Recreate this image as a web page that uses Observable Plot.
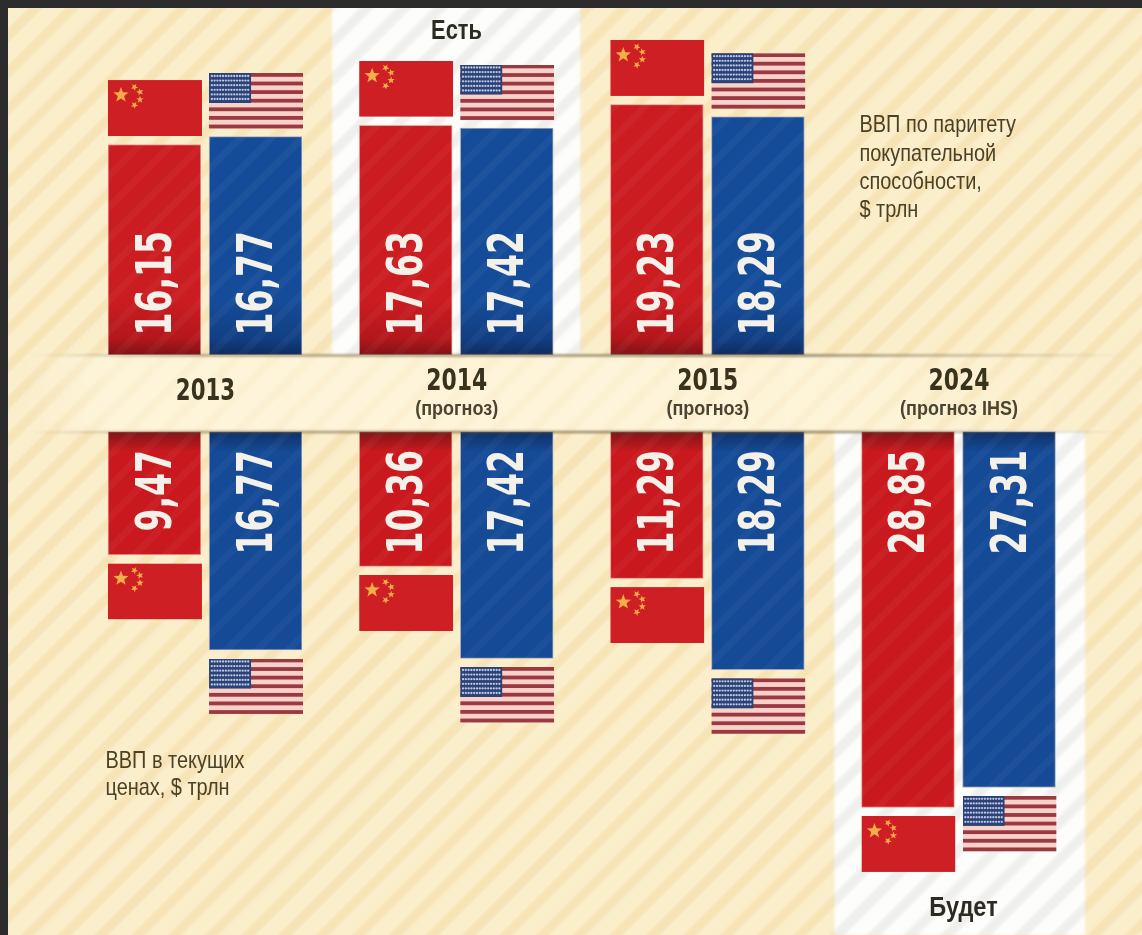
<!DOCTYPE html>
<html>
<head>
<meta charset="utf-8">
<script src="https://cdn.jsdelivr.net/npm/d3@7"></script>
<script src="https://cdn.jsdelivr.net/npm/@observablehq/plot@0.6"></script>
<style>
html,body{margin:0;padding:0;width:1142px;height:935px;overflow:hidden;background:#2c2c2c}
#sheet{position:absolute;left:8px;top:8px;width:1134px;height:927px;overflow:hidden;
  background:repeating-linear-gradient(135deg,#fbeecb 0,#fbeecb 13px,#f6e3b6 17px,#f6e3b6 22px,#fbeecb 26px)}
#chart{position:absolute;left:-8px;top:-8px}
#chart svg{display:block;filter:blur(.6px)}
#defs{position:absolute;width:0;height:0}
</style>
</head>
<body>
<svg id="defs" xmlns="http://www.w3.org/2000/svg">
  <defs>
    <linearGradient id="redTop" gradientUnits="userSpaceOnUse" x1="0" x2="0" y1="300" y2="355">
      <stop offset="0" stop-color="#cb1c21"/><stop offset=".7" stop-color="#b3171c"/><stop offset="1" stop-color="#7f1217"/>
    </linearGradient>
    <linearGradient id="blueTop" gradientUnits="userSpaceOnUse" x1="0" x2="0" y1="300" y2="355">
      <stop offset="0" stop-color="#154c99"/><stop offset=".7" stop-color="#123f84"/><stop offset="1" stop-color="#0d2c60"/>
    </linearGradient>
    <linearGradient id="redBottom" gradientUnits="userSpaceOnUse" x1="0" x2="0" y1="430" y2="452">
      <stop offset="0" stop-color="#7c1418"/><stop offset="1" stop-color="#c9191e"/>
    </linearGradient>
    <linearGradient id="blueBottom" gradientUnits="userSpaceOnUse" x1="0" x2="0" y1="430" y2="452">
      <stop offset="0" stop-color="#0e2f66"/><stop offset="1" stop-color="#154a96"/>
    </linearGradient>
    <linearGradient id="ribbon" gradientUnits="userSpaceOnUse" x1="20" x2="1142" y1="0" y2="0">
      <stop offset="0" stop-color="#fff8e2" stop-opacity="0"/><stop offset=".08" stop-color="#fff8e2" stop-opacity=".62"/>
      <stop offset=".72" stop-color="#fff8e2" stop-opacity=".58"/><stop offset="1" stop-color="#fff8e2" stop-opacity="0"/>
    </linearGradient>
    <linearGradient id="edge" gradientUnits="userSpaceOnUse" x1="30" x2="1125" y1="0" y2="0">
      <stop offset="0" stop-color="#5a4a2a" stop-opacity="0"/><stop offset=".15" stop-color="#5a4a2a" stop-opacity=".45"/>
      <stop offset=".7" stop-color="#5a4a2a" stop-opacity=".65"/><stop offset="1" stop-color="#5a4a2a" stop-opacity="0"/>
    </linearGradient>
    <pattern id="sheen" patternUnits="userSpaceOnUse" width="22" height="22" patternTransform="rotate(-45)">
      <rect width="22" height="7" fill="#fff" fill-opacity=".035"/>
    </pattern>
    <pattern id="whiteStripes" patternUnits="userSpaceOnUse" width="26" height="26" patternTransform="rotate(-45)">
      <rect width="26" height="26" fill="#fdfdfb"/>
      <rect width="26" height="10" fill="#eff0ee"/>
    </pattern>
  </defs>
</svg>
<div id="sheet"><div id="chart"></div></div>
<script>
// Data
const years = ["2013", "2014", "2015", "2024"];
const yearNotes = ["", "(прогноз)", "(прогноз)", "(прогноз IHS)"];
const pppChina = [16.15, 17.63, 19.23];
const pppUSA = [16.77, 17.42, 18.29];
const nominalChina = [9.47, 10.36, 11.29, 28.85];
const nominalUSA = [16.77, 17.42, 18.29, 27.31];
const notePPP = "ВВП по паритету\nпокупательной\nспособности,\n$ трлн";
const noteNominal = "ВВП в текущих\nценах, $ трлн";
const labelNow = "Есть";
const labelFuture = "Будет";

// The two halves of the chart share one value scale, split by the year ribbon.
const gap = 5.87;
const side = 0.2012, half = 0.185;
const fontBase = "'Liberation Sans',sans-serif";
const fontDigits = "'DejaVu Sans',sans-serif";

const row = (values, shift) => values.map((value, i) => ({value, slot: i + shift, year: years[i]}));
const upper = (d) => d.value;
const lower = (d) => -gap - d.value;
const fmt = (d) => d.value.toFixed(2).replace(".", ",");

function svgUri(body) {
  return "data:image/svg+xml," + encodeURIComponent(
    `<svg xmlns="http://www.w3.org/2000/svg" width="94" height="56" viewBox="0 0 94 56">${body}</svg>`);
}
function star(cx, cy, r, rot) {
  const pts = d3.range(10).map((k) => {
    const a = rot + k * Math.PI / 5 - Math.PI / 2, q = k % 2 ? r * 0.42 : r;
    return `${(cx + q * Math.cos(a)).toFixed(2)},${(cy + q * Math.sin(a)).toFixed(2)}`;
  }).join(" ");
  return `<polygon points="${pts}" fill="#f4ae48"/>`;
}
const flagChina = svgUri(
  `<rect width="94" height="56" fill="#cd1f24"/>` +
  star(13, 15, 8, 0) + star(26.5, 7, 3.8, .5) + star(32, 12, 3.8, 1) + star(32, 19.5, 3.8, 0) + star(26.5, 25, 3.8, .5));
const flagUSA = svgUri(
  `<rect width="94" height="56" fill="#f6d2cb"/>` +
  d3.range(7).map((k) => `<rect y="${(k * 8.6).toFixed(1)}" width="94" height="3.8" fill="#9a3a40"/>`).join("") +
  `<rect width="42" height="30" fill="#2b4278"/>` +
  d3.range(6).flatMap((r) => d3.range(14).map((c) =>
    `<circle cx="${2.8 + c * 2.8}" cy="${3 + r * 4.6}" r="1.15" fill="#bcc7de"/>`)).join(""));

function bars(data, y2, fill) {
  const opts = {
    x1: (d) => d.slot - half,
    x2: (d) => d.slot + half,
    y1: () => (y2 === upper ? 0 : -gap),
    y2
  };
  return [
    Plot.rect(data, {...opts, fill, stroke: "#fbe4d2", strokeOpacity: 0.55, strokeWidth: 1.5}),
    Plot.rect(data, {...opts, fill: "url(#sheen)"})
  ];
}
function values(data, top) {
  return Plot.text(data, {
    x: "slot", y: () => (top ? 0 : -gap), text: fmt, rotate: -90,
    textAnchor: top ? "start" : "end",
    dy: top ? -20 : 18,
    className: "squeeze-66",
    fill: "#f3f1ea", fontFamily: fontDigits, fontWeight: 700, fontSize: 50
  });
}
function flags(data, y, src, dy) {
  return Plot.image(data, {x: "slot", y, src, width: 94, height: 56, dy, preserveAspectRatio: "none"});
}

const pc = row(pppChina, -side), pu = row(pppUSA, side);
const nc = row(nominalChina, -side), nu = row(nominalUSA, side);
const yearRows = years.map((year, i) => ({year, note: yearNotes[i], slot: i}));

const chart = Plot.plot({
  width: 1142, height: 935,
  marginTop: 0, marginRight: 0, marginBottom: 0, marginLeft: 0,
  style: {background: "transparent"},
  x: {type: "linear", axis: null, domain: [0, 3], range: [205, 958.5]},
  y: {type: "linear", axis: null, domain: [-44.51, 27.245], range: [935, 0]},
  marks: [
    // white "Есть" / "Будет" columns
    Plot.rect([yearRows[1]], {x1: (d) => d.slot - 0.494, x2: (d) => d.slot + 0.494, y1: 0, y2: 27.245, fill: "url(#whiteStripes)", imageFilter: "blur(1.5px)"}),
    Plot.rect([yearRows[3]], {x1: (d) => d.slot - 0.494, x2: (d) => d.slot + 0.504, y1: -gap, y2: -44.51, fill: "url(#whiteStripes)", imageFilter: "blur(1.5px)"}),

    bars(pc, upper, "url(#redTop)"),
    bars(pu, upper, "url(#blueTop)"),
    bars(nc, lower, "url(#redBottom)"),
    bars(nu, lower, "url(#blueBottom)"),

    flags(pc, upper, flagChina, -37),
    flags(pu, upper, flagUSA, -36),
    flags(nc, lower, flagChina, 36),
    flags(nu, lower, flagUSA, 36),

    values(pc, true),
    values(pu, true),
    values(nc, false),
    values(nu, false),

    // year ribbon
    Plot.rect([0], {y1: 0, y2: -gap, fill: "url(#ribbon)"}),
    Plot.ruleY([0, -gap], {stroke: "url(#edge)", strokeWidth: 2.5, imageFilter: "blur(1px)"}),

    Plot.text(yearRows.filter((d) => !d.note), {
      x: "slot", y: -gap / 2, text: "year", dy: -3, className: "squeeze-71",
      fill: "#39331d", fontFamily: fontDigits, fontWeight: 700, fontSize: 30
    }),
    Plot.text(yearRows.filter((d) => d.note), {
      x: "slot", y: -gap / 2, text: "year", dy: -13, className: "squeeze-73",
      fill: "#39331d", fontFamily: fontDigits, fontWeight: 700, fontSize: 30
    }),
    Plot.text(yearRows.filter((d) => d.note), {
      x: "slot", y: -gap / 2, text: "note", dy: 15, className: "squeeze-90",
      fill: "#4a4430", fontFamily: fontBase, fontWeight: 700, fontSize: 20
    }),

    Plot.text([labelNow], {
      frameAnchor: "top-left", dx: 456, dy: 30, text: (d) => d, textAnchor: "middle", lineAnchor: "middle",
      className: "squeeze-78",
      fill: "#2c2a22", fontFamily: fontBase, fontWeight: 700, fontSize: 28
    }),
    Plot.text([labelFuture], {
      frameAnchor: "top-left", dx: 963, dy: 907, text: (d) => d, textAnchor: "middle", lineAnchor: "middle",
      className: "squeeze-84",
      fill: "#2c2a22", fontFamily: fontBase, fontWeight: 700, fontSize: 28
    }),
    Plot.text([notePPP], {
      frameAnchor: "top-left", dx: 859, dy: 112, text: (d) => d, textAnchor: "start", lineAnchor: "top",
      className: "squeeze-83",
      lineHeight: 1.17, fill: "#4b4226", fontFamily: fontBase, fontSize: 24
    }),
    Plot.text([noteNominal], {
      frameAnchor: "top-left", dx: 105, dy: 749, text: (d) => d, textAnchor: "start", lineAnchor: "top",
      className: "squeeze-83",
      lineHeight: 1.1, fill: "#4b4226", fontFamily: fontBase, fontSize: 24
    })
  ]
});
document.getElementById("chart").appendChild(chart);

// No narrow face is installed, so squeeze each text run to the reference's width.
chart.querySelectorAll("g[class*='squeeze-']").forEach((g) => {
  const factor = +g.getAttribute("class").match(/squeeze-(\d+)/)[1] / 100;
  g.querySelectorAll("text").forEach((t) => {
    const runs = t.querySelectorAll("tspan");
    (runs.length ? [...runs] : [t]).forEach((el) => {
      el.setAttribute("textLength", (el.getComputedTextLength() * factor).toFixed(1));
      el.setAttribute("lengthAdjust", "spacingAndGlyphs");
    });
  });
});
</script>
</body>
</html>
